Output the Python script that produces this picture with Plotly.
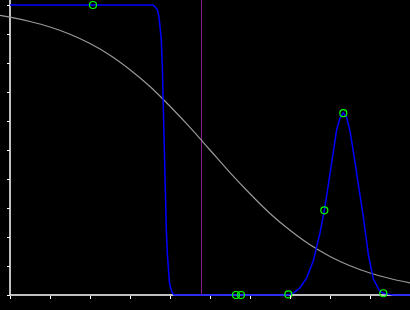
import plotly.graph_objects as go

# ---- data ----
gray_x = [-0.25, 0.0, 0.5, 1.0, 1.5, 2.0, 2.5, 3.0, 3.5, 4.0, 4.5, 5.0, 5.5,
          6.0, 6.5, 7.0, 7.5, 8.0, 8.5, 9.0, 9.5, 10.0]
gray_y = [0.964, 0.958, 0.943, 0.924, 0.899, 0.867, 0.827, 0.777, 0.719, 0.651,
          0.578, 0.500, 0.422, 0.349, 0.281, 0.223, 0.173, 0.133, 0.101, 0.076,
          0.057, 0.042]

blue_x = [0.0, 3.58, 3.625, 3.683, 3.725, 3.758, 3.783, 3.808, 3.825, 3.842,
          3.858, 3.883, 3.908, 3.933, 3.958, 3.983, 4.008, 4.033, 4.058, 4.10,
          6.958, 7.10, 7.25, 7.417, 7.583, 7.75, 7.858, 7.958, 8.083, 8.167,
          8.25, 8.333, 8.417, 8.50, 8.583, 8.708, 8.833, 8.958, 9.083, 9.25,
          9.333, 9.45, 9.58, 10.0]
blue_y = [1.0, 1.0, 0.994, 0.983, 0.960, 0.925, 0.879, 0.787, 0.684, 0.559,
          0.448, 0.328, 0.224, 0.145, 0.086, 0.048, 0.028, 0.014, 0.007, 0.0,
          0.0, 0.008, 0.025, 0.059, 0.118, 0.214, 0.292, 0.380, 0.490, 0.570,
          0.610, 0.628, 0.612, 0.565, 0.495, 0.386, 0.269, 0.140, 0.055, 0.012,
          0.006, 0.003, 0.0, 0.0]

pts_x = [2.075, 5.65, 5.775, 6.958, 7.858, 8.333, 9.333]
pts_y = [1.0, 0.0, 0.0, 0.002, 0.292, 0.627, 0.006]

vline_x = 4.7875

x_ticks = [0, 1, 2, 3, 4, 5, 6, 7, 8, 9, 10]
y_ticks = [0, 0.1, 0.2, 0.3, 0.4, 0.5, 0.6, 0.7, 0.8, 0.9, 1.0]

W, H = 410, 310
x_range = [-0.25, 10.0]
y_range = [-15 / 290, 1 + 5 / 290]

fig = go.Figure()
fig.add_trace(go.Scatter(x=gray_x, y=gray_y, mode="lines",
                         line=dict(color="#999999", width=1.2, shape="spline"),
                         hoverinfo="skip"))
fig.add_trace(go.Scatter(x=blue_x, y=blue_y, mode="lines",
                         line=dict(color="#0000ff", width=1.5),
                         hoverinfo="skip"))
fig.add_trace(go.Scatter(x=pts_x, y=pts_y, mode="markers",
                         marker=dict(symbol="circle-open", size=7, color="#00ff00",
                                     line=dict(width=1.2, color="#00ff00")),
                         cliponaxis=False, hoverinfo="skip"))

shapes = [
    dict(type="line", xref="x", yref="paper", x0=0, x1=0, y0=15 / H, y1=1,
         line=dict(color="white", width=1.5), layer="below"),
    dict(type="line", xref="paper", yref="y", x0=10 / W, x1=1, y0=0, y1=0,
         line=dict(color="white", width=1.5), layer="below"),
    dict(type="line", xref="x", yref="paper", x0=vline_x, x1=vline_x,
         y0=15 / H, y1=1, line=dict(color="#8a1a8a", width=1), layer="below"),
]

fig.update_layout(
    width=W, height=H, margin=dict(l=0, r=0, t=0, b=0),
    paper_bgcolor="black", plot_bgcolor="black", showlegend=False,
    shapes=shapes,
    xaxis=dict(range=x_range, anchor="free", position=15 / H,
               tickmode="array", tickvals=x_ticks, ticks="outside", ticklen=3,
               tickwidth=1, tickcolor="white", showticklabels=False,
               showgrid=False, zeroline=False, showline=False, fixedrange=True),
    yaxis=dict(range=y_range, anchor="free", position=10 / W,
               tickmode="array", tickvals=y_ticks, ticks="outside", ticklen=3,
               tickwidth=1, tickcolor="white", showticklabels=False,
               showgrid=False, zeroline=False, showline=False, fixedrange=True),
)

fig.write_html("out.html")
